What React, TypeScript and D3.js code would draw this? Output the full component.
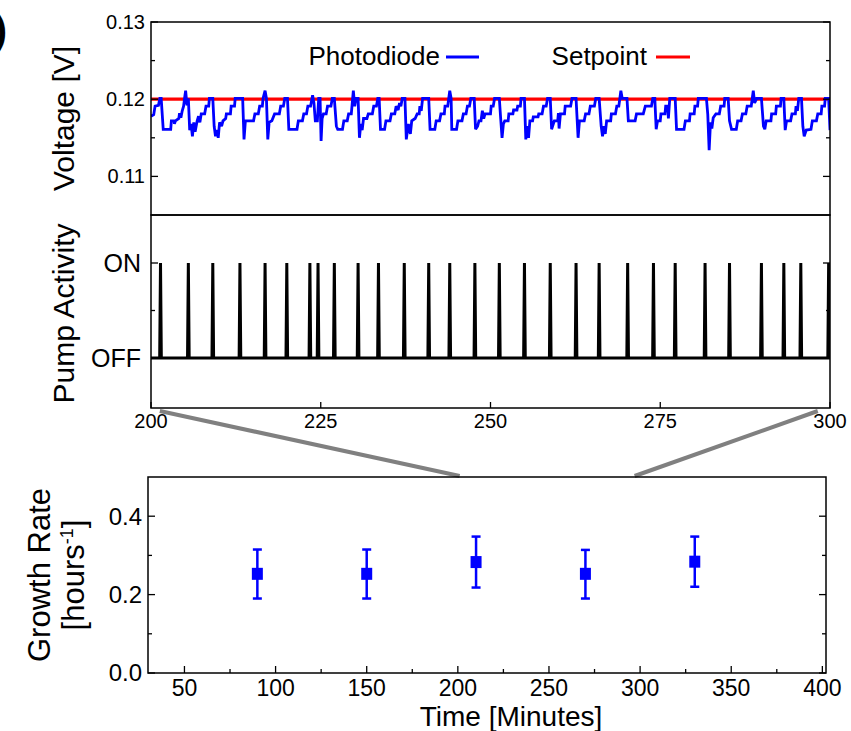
import React from "react";
import * as d3 from "d3";

// ---------- DATA ----------
const setpoint = 0.12;

// Photodiode voltage readings [minute, volts]
const photodiode: [number, number][] = [
  [200.0, 0.1178], [200.4, 0.118], [200.6, 0.1191], [201.1, 0.1192], [201.3, 0.1201], [201.5, 0.1201],
  [201.8, 0.1161], [202.9, 0.1161], [203.0, 0.1172], [203.4, 0.1172], [203.45, 0.1168], [203.6, 0.1172],
  [204.1, 0.1175], [204.2, 0.1182], [204.4, 0.1176], [204.6, 0.1185], [204.8, 0.1191], [205.0, 0.1205],
  [205.1, 0.1211], [205.3, 0.1192], [205.5, 0.1201], [205.7, 0.116], [205.9, 0.1168], [206.1, 0.1152],
  [206.3, 0.117], [206.5, 0.1158], [206.8, 0.1172], [207.0, 0.1178], [207.2, 0.117], [207.4, 0.1181],
  [207.9, 0.1181], [208.1, 0.1191], [208.5, 0.1191], [208.6, 0.1201], [209.1, 0.1201], [209.3, 0.1165],
  [209.5, 0.1152], [209.7, 0.116], [209.9, 0.115], [210.1, 0.117], [210.4, 0.1165], [210.6, 0.1172],
  [211.0, 0.1175], [211.1, 0.1181], [211.7, 0.1181], [211.8, 0.1191], [212.3, 0.1191], [212.4, 0.1201],
  [213.5, 0.1201], [213.7, 0.1148], [213.9, 0.1172], [215.1, 0.1172], [215.3, 0.1181], [215.8, 0.1181],
  [216.0, 0.1191], [216.4, 0.1191], [216.5, 0.1201], [216.8, 0.1211], [217.0, 0.1201], [217.2, 0.1148],
  [217.4, 0.117], [217.8, 0.1172], [218.2, 0.1181], [218.9, 0.1181], [219.1, 0.1191], [219.5, 0.1191],
  [219.7, 0.1201], [220.1, 0.1201], [220.3, 0.1161], [221.5, 0.1161], [221.7, 0.1172], [222.3, 0.1172],
  [222.5, 0.1181], [222.9, 0.1181], [223.1, 0.1191], [223.5, 0.1191], [223.8, 0.1205], [224.0, 0.1195],
  [224.2, 0.1172], [224.5, 0.1172], [224.7, 0.1201], [224.9, 0.1201], [225.05, 0.1146], [225.2, 0.1175],
  [225.4, 0.1181], [225.8, 0.1181], [226.0, 0.1191], [226.5, 0.1191], [226.7, 0.1201], [227.0, 0.1201],
  [227.3, 0.1165], [227.5, 0.1161], [228.2, 0.1161], [228.4, 0.1172], [228.9, 0.1172], [229.1, 0.1181],
  [229.5, 0.1181], [229.6, 0.1191], [229.8, 0.1211], [230.0, 0.1191], [230.2, 0.1201], [230.5, 0.1201],
  [230.7, 0.115], [230.9, 0.1168], [231.1, 0.116], [231.3, 0.1175], [231.8, 0.1175], [232.0, 0.1181],
  [232.6, 0.1181], [232.8, 0.1191], [233.2, 0.1191], [233.4, 0.1201], [233.6, 0.1201], [233.8, 0.1161],
  [234.4, 0.1161], [234.6, 0.1172], [235.2, 0.1172], [235.4, 0.1181], [235.9, 0.1181], [236.1, 0.1191],
  [236.4, 0.1186], [236.6, 0.1195], [236.8, 0.1191], [237.0, 0.1201], [237.4, 0.1201], [237.6, 0.1148],
  [237.9, 0.1168], [238.2, 0.1155], [238.4, 0.1172], [238.9, 0.1175], [239.2, 0.1181], [239.5, 0.1181],
  [239.6, 0.1191], [239.8, 0.1185], [240.0, 0.1201], [240.9, 0.1201], [241.1, 0.1161], [241.8, 0.1161],
  [242.0, 0.1172], [242.5, 0.1172], [242.7, 0.1181], [243.2, 0.1181], [243.3, 0.1191], [243.7, 0.1191],
  [244.0, 0.1211], [244.2, 0.1201], [244.3, 0.1161], [245.0, 0.1161], [245.2, 0.1172], [245.8, 0.1172],
  [246.0, 0.1181], [246.4, 0.1181], [246.6, 0.1191], [246.9, 0.1191], [247.1, 0.1201], [247.6, 0.1201],
  [247.8, 0.1161], [248.1, 0.1165], [248.3, 0.1172], [248.6, 0.1172], [248.8, 0.1185], [249.0, 0.1175],
  [249.2, 0.1181], [250.0, 0.1181], [250.1, 0.1191], [250.4, 0.1191], [250.6, 0.1201], [251.3, 0.1201],
  [251.5, 0.1175], [251.7, 0.115], [251.9, 0.1168], [252.1, 0.1172], [252.6, 0.1172], [252.7, 0.1181],
  [253.3, 0.1181], [253.4, 0.1186], [253.9, 0.1186], [254.0, 0.1191], [254.4, 0.1191], [254.5, 0.1201],
  [255.0, 0.1201], [255.2, 0.1148], [255.4, 0.1165], [255.6, 0.115], [255.8, 0.1172], [256.2, 0.1172],
  [256.3, 0.1177], [257.0, 0.1177], [257.1, 0.1181], [257.6, 0.1181], [257.8, 0.1191], [258.2, 0.1191],
  [258.4, 0.1201], [258.8, 0.1201], [259.0, 0.1161], [259.4, 0.1172], [259.9, 0.1172], [260.0, 0.1182],
  [260.1, 0.1162], [260.3, 0.1181], [260.9, 0.1181], [261.0, 0.1191], [261.8, 0.1191], [262.0, 0.1201],
  [262.6, 0.1201], [262.9, 0.115], [263.1, 0.1172], [263.8, 0.1172], [264.0, 0.1181], [264.5, 0.1181],
  [264.7, 0.1191], [265.3, 0.1191], [265.5, 0.1201], [266.0, 0.1201], [266.3, 0.1165], [266.5, 0.1152],
  [266.7, 0.1165], [266.9, 0.1155], [267.1, 0.1172], [267.7, 0.1172], [267.8, 0.1181], [268.4, 0.1181],
  [268.6, 0.1191], [268.9, 0.1191], [269.2, 0.1211], [269.4, 0.1201], [270.1, 0.1201], [270.3, 0.1172],
  [271.3, 0.1172], [271.5, 0.1181], [272.5, 0.1181], [272.8, 0.1191], [273.7, 0.1191], [273.9, 0.1201],
  [274.2, 0.1201], [274.4, 0.1161], [274.6, 0.1172], [275.0, 0.1172], [275.1, 0.1181], [275.7, 0.1181],
  [275.8, 0.1191], [276.1, 0.1191], [276.2, 0.1175], [276.4, 0.1201], [277.2, 0.1201], [277.4, 0.1161],
  [278.5, 0.1161], [278.7, 0.1172], [279.3, 0.1172], [279.4, 0.1181], [280.0, 0.1181], [280.1, 0.1191],
  [280.5, 0.1191], [280.6, 0.1201], [281.8, 0.1201], [282.0, 0.118], [282.2, 0.1134], [282.4, 0.117],
  [282.6, 0.1162], [282.8, 0.1176], [283.2, 0.1181], [283.7, 0.1181], [283.9, 0.1191], [284.4, 0.1191],
  [284.5, 0.1201], [285.0, 0.1201], [285.2, 0.1172], [285.5, 0.1161], [286.2, 0.1161], [286.4, 0.1172],
  [286.9, 0.1172], [287.1, 0.1181], [287.6, 0.1181], [287.8, 0.1191], [288.4, 0.1191], [288.7, 0.1211],
  [288.9, 0.1195], [289.2, 0.1201], [289.9, 0.1201], [290.2, 0.1165], [290.4, 0.1161], [290.6, 0.1172],
  [291.3, 0.1172], [291.4, 0.1181], [292.0, 0.1181], [292.1, 0.1191], [292.7, 0.1191], [292.8, 0.1201],
  [293.2, 0.1201], [293.4, 0.116], [293.6, 0.1172], [294.2, 0.1172], [294.4, 0.1181], [294.9, 0.1181],
  [295.0, 0.1191], [295.2, 0.1185], [295.4, 0.1201], [295.8, 0.1201], [296.0, 0.1165], [296.2, 0.1152],
  [296.5, 0.116], [297.2, 0.1161], [297.4, 0.1172], [298.0, 0.1172], [298.2, 0.1181], [298.7, 0.1181],
  [298.8, 0.1191], [299.2, 0.1191], [299.3, 0.1201], [299.8, 0.1201], [300.0, 0.116],
];

// Pump activation times (minutes)
const pumpTimes = [
  201.4, 205.5, 209.1, 213.1, 216.8, 220.0, 223.4, 224.6, 227.0, 230.5, 233.5, 237.3, 240.9, 244.0,
  247.7, 251.3, 255.0, 258.8, 262.6, 266.0, 270.2, 274.0, 277.2, 281.6, 285.2, 289.9, 293.2, 295.7, 299.8,
];

// Growth rate panel
const growthTime = [90, 150, 210, 270, 330];
const growthRate = [0.253, 0.253, 0.283, 0.253, 0.284];
const growthLow = [0.19, 0.19, 0.218, 0.19, 0.22];
const growthHigh = [0.315, 0.315, 0.348, 0.314, 0.348];

const voltTicks = [0.11, 0.12, 0.13];
const voltMinor = [0.115, 0.125];
const pumpTicks = [0, 1];
const pumpTickLabels = ["OFF", "ON"];
const zoomTicks = [200, 225, 250, 275, 300];
const growthXTicks = [50, 100, 150, 200, 250, 300, 350, 400];
const growthXMinor = [75, 125, 175, 225, 275, 325, 375];
const growthYTicks = [0.0, 0.2, 0.4];
const growthYMinor = [0.1, 0.3];

const FONT = "'Liberation Sans', Arial, sans-serif";

export default function App() {
  // layout
  const L = 151, R = 830;
  const topT = 22, topB = 215, midB = 408;
  const bL = 148, bR = 826, bT = 477, bB = 673;

  const x = d3.scaleLinear().domain([200, 300]).range([L, R]);
  const yV = d3.scaleLinear().domain([0.105, 0.13]).range([topB, topT]);
  const yP = d3.scaleLinear().domain([0, 1]).range([358, 263]);
  const xb = d3.scaleLinear().domain([30, 402]).range([bL, bR]);
  const yb = d3.scaleLinear().domain([0, 0.5]).range([bB, bT]);

  const vLine = d3
    .line<[number, number]>()
    .x((d) => x(d[0]))
    .y((d) => yV(d[1]));

  const pumpPts: [number, number][] = [[200, 0]];
  pumpTimes.forEach((t) => {
    pumpPts.push([t - 0.12, 0], [t, 1], [t + 0.12, 0]);
  });
  pumpPts.push([300, 0]);
  const pLine = d3
    .line<[number, number]>()
    .x((d) => x(d[0]))
    .y((d) => yP(d[1]));

  const tickW = 1.3;

  return (
    <svg
      width={851}
      height={731}
      style={{ position: "absolute", left: 0, top: 0, background: "#fff" }}
      fontFamily={FONT}
    >
      <defs>
        <clipPath id="topclip">
          <rect x={L} y={topT} width={R - L} height={topB - topT} />
        </clipPath>
        <clipPath id="midclip">
          <rect x={L} y={topB} width={R - L} height={midB - topB} />
        </clipPath>
      </defs>
      <rect x={0} y={0} width={851} height={731} fill="#fff" />

      {/* panel letter (cut off at the edge, as in the reference) */}
      <text x={7} y={44} textAnchor="end" fontSize={40} fontWeight="bold" fill="#000">
        b)
      </text>

      {/* ---------- TOP PANEL ---------- */}
      <g clipPath="url(#topclip)">
        <line x1={x(200)} x2={x(300)} y1={yV(setpoint)} y2={yV(setpoint)} stroke="#ff0000" strokeWidth={3.2} />
        <path d={vLine(photodiode) || ""} fill="none" stroke="#0000ff" strokeWidth={2.8} strokeLinejoin="miter" strokeMiterlimit={2} />
      </g>
      {voltTicks.map((v) => (
        <g key={"vt" + v}>
          <line x1={L} x2={L + 7} y1={yV(v)} y2={yV(v)} stroke="#000" strokeWidth={tickW} />
          <line x1={R} x2={R - 7} y1={yV(v)} y2={yV(v)} stroke="#000" strokeWidth={tickW} />
          <text x={L - 6} y={yV(v)} dy="0.35em" textAnchor="end" fontSize={20}>
            {v.toFixed(2)}
          </text>
        </g>
      ))}
      {voltMinor.map((v) => (
        <g key={"vm" + v}>
          <line x1={L} x2={L + 4} y1={yV(v)} y2={yV(v)} stroke="#000" strokeWidth={tickW} />
          <line x1={R} x2={R - 4} y1={yV(v)} y2={yV(v)} stroke="#000" strokeWidth={tickW} />
        </g>
      ))}
      <rect x={L} y={topT} width={R - L} height={topB - topT} fill="none" stroke="#000" strokeWidth={1.5} />
      <text transform={`translate(74, ${(topT + topB) / 2}) rotate(-90)`} textAnchor="middle" fontSize={30}>
        Voltage [V]
      </text>

      {/* legend */}
      <text x={440} y={65} textAnchor="end" fontSize={26}>Photodiode</text>
      <line x1={446} x2={479} y1={57} y2={57} stroke="#0000ff" strokeWidth={3} />
      <text x={647} y={65} textAnchor="end" fontSize={26}>Setpoint</text>
      <line x1={656} x2={690} y1={57} y2={57} stroke="#ff0000" strokeWidth={3} />

      {/* ---------- MIDDLE PANEL ---------- */}
      <g clipPath="url(#midclip)">
        <path d={pLine(pumpPts) || ""} fill="none" stroke="#000" strokeWidth={3} strokeLinejoin="miter" />
      </g>
      {pumpTicks.map((v, i) => (
        <g key={"pt" + v}>
          <line x1={L} x2={L + 7} y1={yP(v)} y2={yP(v)} stroke="#000" strokeWidth={tickW} />
          <line x1={R} x2={R - 7} y1={yP(v)} y2={yP(v)} stroke="#000" strokeWidth={tickW} />
          <text x={L - 10} y={yP(v)} dy="0.36em" textAnchor="end" fontSize={25}>
            {pumpTickLabels[i]}
          </text>
        </g>
      ))}
      <line x1={L} x2={L + 4} y1={yP(0.5)} y2={yP(0.5)} stroke="#000" strokeWidth={tickW} />
      <line x1={R} x2={R - 4} y1={yP(0.5)} y2={yP(0.5)} stroke="#000" strokeWidth={tickW} />
      {zoomTicks.map((t) => (
        <g key={"zt" + t}>
          <line x1={x(t)} x2={x(t)} y1={midB} y2={midB - 6} stroke="#000" strokeWidth={tickW} />
          <text x={x(t)} y={midB + 20} textAnchor="middle" fontSize={20}>
            {t}
          </text>
        </g>
      ))}
      <rect x={L} y={topB} width={R - L} height={midB - topB} fill="none" stroke="#000" strokeWidth={1.5} />
      <text transform={`translate(74, ${(topB + midB) / 2 + 2}) rotate(-90)`} textAnchor="middle" fontSize={30}>
        Pump Activity
      </text>

      {/* zoom connector lines */}
      <line x1={x(201.3)} y1={411} x2={xb(201)} y2={bT - 1} stroke="#808080" strokeWidth={4} />
      <line x1={x(298.2)} y1={411} x2={xb(297)} y2={bT - 1} stroke="#808080" strokeWidth={4} />

      {/* ---------- BOTTOM PANEL ---------- */}
      {growthXTicks.map((t) => (
        <g key={"gx" + t}>
          <line x1={xb(t)} x2={xb(t)} y1={bB} y2={bB - 7} stroke="#000" strokeWidth={tickW} />
          <text x={xb(t)} y={bB + 23} textAnchor="middle" fontSize={23}>
            {t}
          </text>
        </g>
      ))}
      {growthXMinor.map((t) => (
        <line key={"gxm" + t} x1={xb(t)} x2={xb(t)} y1={bB} y2={bB - 4} stroke="#000" strokeWidth={tickW} />
      ))}
      {growthYTicks.map((v) => (
        <g key={"gy" + v}>
          <line x1={bL} x2={bL + 7} y1={yb(v)} y2={yb(v)} stroke="#000" strokeWidth={tickW} />
          <line x1={bR} x2={bR - 7} y1={yb(v)} y2={yb(v)} stroke="#000" strokeWidth={tickW} />
          <text x={bL - 6} y={yb(v)} dy="0.35em" textAnchor="end" fontSize={24}>
            {v.toFixed(1)}
          </text>
        </g>
      ))}
      {growthYMinor.map((v) => (
        <g key={"gym" + v}>
          <line x1={bL} x2={bL + 4} y1={yb(v)} y2={yb(v)} stroke="#000" strokeWidth={tickW} />
          <line x1={bR} x2={bR - 4} y1={yb(v)} y2={yb(v)} stroke="#000" strokeWidth={tickW} />
        </g>
      ))}
      <rect x={bL} y={bT} width={bR - bL} height={bB - bT} fill="none" stroke="#000" strokeWidth={1.5} />

      {growthTime.map((t, i) => (
        <g key={"gp" + t}>
          <line x1={xb(t)} x2={xb(t)} y1={yb(growthLow[i])} y2={yb(growthHigh[i])} stroke="#0000ff" strokeWidth={2.5} />
          <line x1={xb(t) - 4.5} x2={xb(t) + 4.5} y1={yb(growthLow[i])} y2={yb(growthLow[i])} stroke="#0000ff" strokeWidth={2.5} />
          <line x1={xb(t) - 4.5} x2={xb(t) + 4.5} y1={yb(growthHigh[i])} y2={yb(growthHigh[i])} stroke="#0000ff" strokeWidth={2.5} />
          <rect x={xb(t) - 5.5} y={yb(growthRate[i]) - 6} width={11} height={12} fill="#0000ff" />
        </g>
      ))}

      <text transform={`translate(50, ${(bT + bB) / 2}) rotate(-90)`} textAnchor="middle" fontSize={31}>
        Growth Rate
      </text>
      <text transform={`translate(84, ${(bT + bB) / 2}) rotate(-90)`} textAnchor="middle" fontSize={31}>
        [hours<tspan dy={-11} fontSize={18}>-1</tspan>
        <tspan dy={11}>]</tspan>
      </text>
      <text x={(bL + bR) / 2 + 24} y={726} textAnchor="middle" fontSize={28}>
        Time [Minutes]
      </text>
    </svg>
  );
}
